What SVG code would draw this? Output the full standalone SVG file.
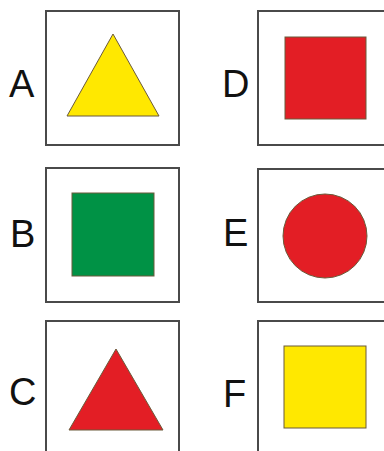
<svg xmlns="http://www.w3.org/2000/svg" width="384" height="451" viewBox="0 0 384 451">
<style>
.box{fill:#fff;stroke:#4a4a4a;stroke-width:2}
.lbl{font-family:"Liberation Sans",Arial,sans-serif;font-size:38px;fill:#111}
.shape{stroke:#6b5a3a;stroke-width:1}
.yellow{fill:#ffe800}
.red{fill:#e31e25}
.green{fill:#009245}
</style>
<rect width="384" height="451" fill="#fff"/>
<g id="A">
<rect class="box" x="46" y="11" width="133" height="134"/>
<text class="lbl" x="9" y="97">A</text>
<polygon class="shape yellow" points="113,34 67,116 159,116"/>
</g>
<g id="B">
<rect class="box" x="46" y="168" width="133" height="134"/>
<text class="lbl" x="10" y="247">B</text>
<rect class="shape green" x="72" y="193" width="82" height="83"/>
</g>
<g id="C">
<rect class="box" x="46" y="321" width="133" height="140"/>
<text class="lbl" x="9" y="405">C</text>
<polygon class="shape red" points="116,349 69,430 163,430"/>
</g>
<g id="D">
<path class="box" d="M390,11 H258 V145 H390"/>
<text class="lbl" x="222" y="97">D</text>
<rect class="shape red" x="285" y="37" width="81" height="82"/>
</g>
<g id="E">
<path class="box" d="M390,169 H258 V302 H390"/>
<text class="lbl" x="223" y="246">E</text>
<circle class="shape red" cx="325" cy="236" r="42"/>
</g>
<g id="F">
<path class="box" d="M390,321 H258 V460"/>
<text class="lbl" x="223" y="407">F</text>
<rect class="shape yellow" x="284" y="346" width="82" height="82"/>
</g>
<g id="connectors"/>
</svg>
